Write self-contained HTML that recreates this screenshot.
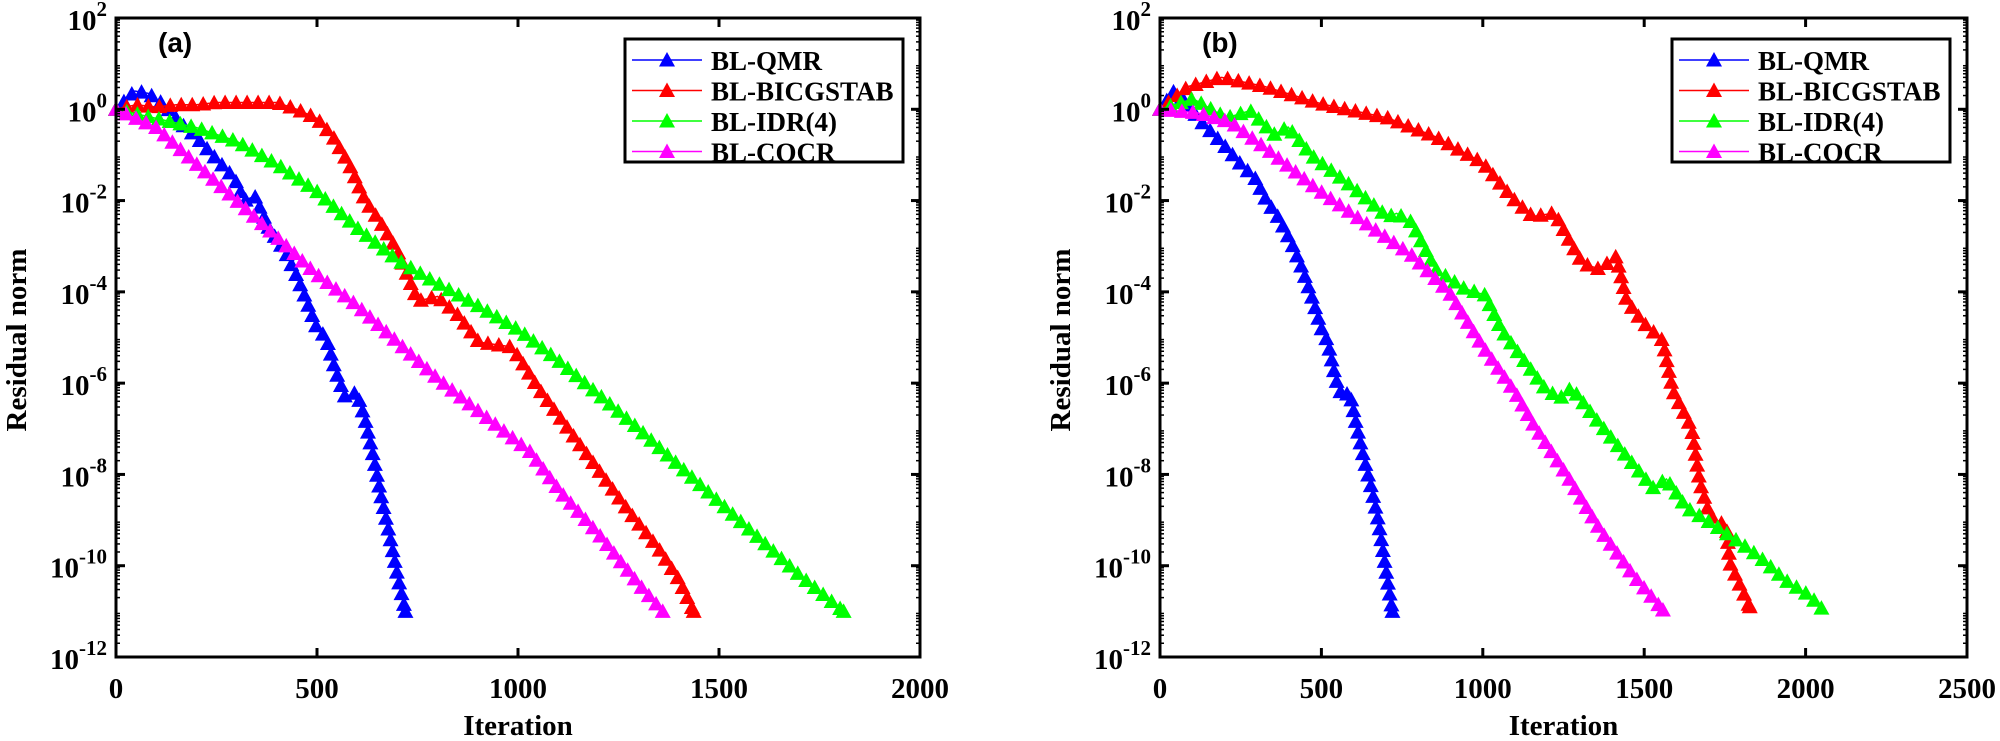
<!DOCTYPE html>
<html><head><meta charset="utf-8"><style>
html,body{margin:0;padding:0;background:#fff;}
svg{display:block;font-family:"Liberation Serif",serif;}
</style></head><body>
<svg id="fig" width="2000" height="741" viewBox="0 0 2000 741" xmlns="http://www.w3.org/2000/svg"></svg>
<script>
// ---- data (iteration, log10 residual) ----
const seriesNames = ["BL-QMR","BL-BICGSTAB","BL-IDR(4)","BL-COCR"];
const seriesColors = ["#0000ff","#ff0000","#00ff00","#ff00ff"];
const xTicksA = [0,500,1000,1500,2000];
const xTicksB = [0,500,1000,1500,2000,2500];
const yTickExp = [2,0,-2,-4,-6,-8,-10,-12];

const qmrA_it = [0,47,80,120,160,200,240,294,320,345,380,420,447,470,500,523,545,570,599,620,640,660,680,700,720];
const qmrA_lg = [0,0.4,0.35,0.1,-0.3,-0.6,-1.0,-1.5,-2.0,-1.9,-2.6,-3.1,-3.6,-4.1,-4.8,-5.0,-5.7,-6.3,-6.2,-6.8,-7.6,-8.5,-9.3,-10.2,-11];
const bicA_it = [0,50,100,150,200,250,300,350,400,450,500,540,580,620,660,700,751,800,850,903,980,1000,1050,1100,1150,1200,1250,1284,1348,1400,1437];
const bicA_lg = [0,0.1,0.05,0.1,0.1,0.15,0.15,0.15,0.15,0,-0.2,-0.6,-1.2,-2.0,-2.5,-3.1,-4.2,-4.1,-4.5,-5.1,-5.2,-5.4,-6.1,-6.7,-7.3,-7.9,-8.5,-8.9,-9.6,-10.3,-11];
const idrA_it = [0,100,200,300,400,500,600,700,777,900,1005,1100,1234,1300,1400,1500,1600,1700,1810];
const idrA_lg = [0,-0.2,-0.4,-0.7,-1.2,-1.8,-2.6,-3.3,-3.7,-4.3,-4.85,-5.5,-6.5,-7.0,-7.8,-8.6,-9.4,-10.2,-11];
const cocA_it = [0,100,200,300,400,497,600,700,800,900,1030,1107,1200,1300,1360];
const cocA_lg = [0,-0.4,-1.2,-2.0,-2.8,-3.6,-4.3,-5.1,-5.9,-6.6,-7.5,-8.4,-9.3,-10.4,-11];

const qmrB_it = [0,44,80,118,160,200,250,294,330,370,412,441,470,500,520,544,565,588,605,630,655,676,700,720];
const qmrB_lg = [0,0.4,0.2,-0.2,-0.5,-0.8,-1.2,-1.5,-2.0,-2.4,-3.0,-3.5,-4.1,-4.8,-5.1,-5.9,-6.3,-6.2,-6.8,-7.6,-8.3,-9.0,-10.1,-11];
const bicB_it = [0,88,191,324,500,706,853,1000,1063,1100,1155,1223,1270,1310,1362,1414,1445,1495,1557,1589,1647,1672,1703,1755,1765,1827];
const bicB_lg = [0,0.5,0.7,0.5,0.12,-0.19,-0.6,-1.17,-1.7,-2.0,-2.35,-2.27,-2.9,-3.38,-3.5,-3.22,-4.18,-4.66,-5.06,-6.17,-6.98,-8.17,-8.9,-9.14,-9.93,-10.9];
const idrB_it = [0,103,206,279,353,397,471,529,603,706,733,779,853,941,1007,1059,1191,1238,1275,1352,1465,1527,1569,1631,1713,1796,1858,1940,2012,2049];
const idrB_lg = [0,0.23,-0.19,-0.03,-0.55,-0.39,-1.02,-1.33,-1.74,-2.36,-2.28,-2.47,-3.5,-3.92,-4.07,-4.85,-6.1,-6.34,-6.1,-6.8,-7.77,-8.29,-8.1,-8.73,-9.09,-9.49,-9.81,-10.33,-10.65,-10.93];
const cocB_it = [0,118,221,338,485,632,779,897,1000,1100,1156,1259,1362,1465,1558];
const cocB_lg = [0,-0.08,-0.29,-0.91,-1.74,-2.47,-3.19,-4.02,-5.2,-6.2,-6.9,-8.0,-9.2,-10.2,-10.97];

const NS="http://www.w3.org/2000/svg";
const svg=document.getElementById('fig');
function mk(tag,attrs,parent){const e=document.createElementNS(NS,tag);for(const k in attrs)e.setAttribute(k,attrs[k]);(parent||svg).appendChild(e);return e;}

const Y0=18, Y1=657; // 10^2 .. 10^-12
function yScale(lg){return Y0+(2-lg)/14*(Y1-Y0);}

function panel(id,x0,x1,xmax,xTicks,letter,data){
  const g=mk('g',{});
  
  
  const xs=v=>x0+v/xmax*(x1-x0);
  data.forEach((d,si)=>{
    const sg=mk('g',{},g);
    
    
    const pts=d[0].map((it,i)=>[xs(it),yScale(d[1][i])]);
    const pl=mk('polyline',{points:pts.map(p=>p.join(',')).join(' '),fill:'none',stroke:seriesColors[si],'stroke-width':1.5},sg);
    
    
    let acc=0, step=11; let path='';
    const tri=(x,y)=>`M${x-8},${y+6.5}L${x+8},${y+6.5}L${x},${y-8}Z`;
    path+=tri(pts[0][0],pts[0][1]);
    for(let i=1;i<pts.length;i++){
      const [ax,ay]=pts[i-1],[bx,by]=pts[i];
      const L=Math.hypot(bx-ax,by-ay);
      let t=step-acc;
      while(t<=L){path+=tri(ax+(bx-ax)*t/L,ay+(by-ay)*t/L);t+=step;}
      acc=L-(t-step);
    }
    const last=pts[pts.length-1];path+=tri(last[0],last[1]);
    const m=mk('path',{d:path,fill:seriesColors[si]},sg);
    
    
  });
  const box=mk('rect',{x:x0,y:Y0,width:x1-x0,height:Y1-Y0,fill:'none',stroke:'#000','stroke-width':3},g);
  
  
  xTicks.forEach(v=>{
    const x=xs(v);
    mk('line',{x1:x,x2:x,y1:Y1,y2:Y1-9,stroke:'#000','stroke-width':3},g);
    mk('line',{x1:x,x2:x,y1:Y0,y2:Y0+9,stroke:'#000','stroke-width':3},g);
    const t=mk('text',{x:x,y:Y1+41,'text-anchor':'middle','font-size':29,'font-weight':'bold'},g);
    t.textContent=v;
    
    
  });
  yTickExp.forEach(e=>{
    const y=yScale(e);
    mk('line',{x1:x0,x2:x0+9,y1:y,y2:y,stroke:'#000','stroke-width':3},g);
    mk('line',{x1:x1,x2:x1-9,y1:y,y2:y,stroke:'#000','stroke-width':3},g);
    const t=mk('text',{x:x0-9,y:y+12,'text-anchor':'end','font-size':29,'font-weight':'bold'},g);
    
    
    const a=mk('tspan',{},t);a.textContent='10';
    const b=mk('tspan',{dy:-14,'font-size':21},t);b.textContent=String(e);
  });
  for(let e=-12;e<2;e++){for(let k=2;k<10;k++){const y=yScale(e+Math.log10(k));
    mk('line',{x1:x0,x2:x0+4,y1:y,y2:y,stroke:'#000','stroke-width':1.5},g);
    mk('line',{x1:x1,x2:x1-4,y1:y,y2:y,stroke:'#000','stroke-width':1.5},g);}}
  const xt=mk('text',{x:(x0+x1)/2,y:735,'text-anchor':'middle','font-size':29,'font-weight':'bold'},g);
  xt.textContent='Iteration';
  
  
  const yt=mk('text',{x:0,y:0,'text-anchor':'middle','font-size':29,'font-weight':'bold',transform:`translate(${x0-90},340) rotate(-90)`},g);
  yt.textContent='Residual norm';
  
  
  const pl=mk('text',{x:x0+42,y:52,'font-size':28,'font-weight':'bold','font-family':'Liberation Sans, sans-serif'},g);
  pl.textContent='('+letter+')';
  
  
  const lg=mk('g',{},g);
  
  
  const lx=x1-295, ly=39;
  mk('rect',{x:lx,y:ly,width:278,height:123,fill:'#fff',stroke:'#000','stroke-width':3},lg);
  seriesNames.forEach((n,i)=>{
    const y=ly+21+i*30.5;
    const e=mk('g',{},lg);
    
    
    mk('line',{x1:lx+7,x2:lx+77,y1:y,y2:y,stroke:seriesColors[i],'stroke-width':1.5},e);
    mk('path',{d:`M${lx+34},${y+6.5}L${lx+50},${y+6.5}L${lx+42},${y-8}Z`,fill:seriesColors[i]},e);
    const t=mk('text',{x:lx+86,y:y+10,'font-size':27,'font-weight':'bold'},e);
    t.textContent=n;
  });
}
panel('a',116,920,2000,xTicksA,'a',[[qmrA_it,qmrA_lg],[bicA_it,bicA_lg],[idrA_it,idrA_lg],[cocA_it,cocA_lg]]);
panel('b',1160,1967,2500,xTicksB,'b',[[qmrB_it,qmrB_lg],[bicB_it,bicB_lg],[idrB_it,idrB_lg],[cocB_it,cocB_lg]]);
</script>
</body></html>
